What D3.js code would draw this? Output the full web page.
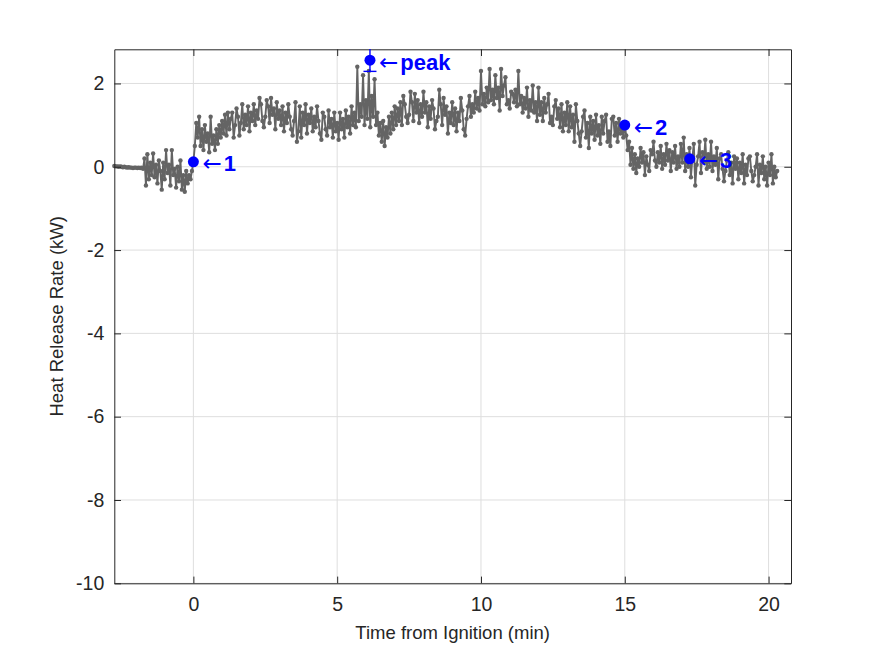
<!DOCTYPE html>
<html>
<head>
<meta charset="utf-8">
<script src="https://cdn.jsdelivr.net/npm/d3@7"></script>
<style>
  body { margin: 0; background: #fff; }
  svg { display: block; font-family: "Liberation Sans", Arial, Helvetica, sans-serif; }
</style>
</head>
<body>
<div id="chart"></div>
<script>
// sampling of the heat release record (min)
var t0 = -2.75;
var dt = 0.05;

// heat release rate, kW, one value per sample
var hrr = [
    0.02,0.01,0.01,0.00,0.01,0.00,-0.01,0.00,-0.01,-0.02,-0.01,-0.02,-0.02,-0.03,-0.02,-0.02,-0.03,-0.02,-0.03,-0.02,
    -0.05,0.2,-0.45,0.3,-0.3,0.1,-0.2,0.32,-0.25,0.05,
    -0.4,0.15,-0.1,-0.55,0.1,-0.3,0.4,-0.15,0.05,-0.45,
    0.4,-0.2,-0.05,-0.5,0.0,-0.35,0.15,-0.55,-0.2,-0.6,
    -0.1,-0.4,-0.2,-0.3,-0.1,0.12,0.5,1.05,0.7,1.2,
    0.5,0.9,0.4,1.0,0.6,0.8,0.35,1.2,0.55,0.75,
    0.4,0.9,0.55,1.0,0.7,1.1,0.8,1.25,0.75,1.3,
    0.9,1.15,1.3,0.7,1.0,1.4,1.2,0.75,1.05,1.5,
    0.9,1.25,1.0,1.45,0.85,1.3,1.1,1.5,1.0,1.35,
    1.15,1.65,1.5,1.1,0.95,1.2,1.6,1.45,1.05,1.65,
    1.25,1.4,0.9,1.55,1.15,1.35,1.0,1.45,0.85,1.3,
    1.05,1.5,1.2,0.9,0.75,1.1,1.55,0.6,0.85,1.45,
    0.7,1.3,1.0,1.5,0.8,1.25,1.05,1.4,0.85,1.2,
    0.95,1.45,1.1,0.8,0.65,1.3,1.2,0.9,0.75,1.35,
    0.95,1.15,0.7,1.3,0.85,1.05,0.65,1.3,0.9,1.15,
    0.7,1.35,0.95,1.2,0.8,1.45,1.0,1.3,0.95,2.4,
    1.1,1.5,1.2,2.2,1.0,1.6,1.15,2.3,0.95,1.7,
    1.2,2.1,1.0,1.3,0.75,1.05,0.6,1.1,0.5,0.95,
    0.7,1.2,0.8,1.3,0.9,1.45,1.0,1.4,1.1,1.55,
    1.0,1.7,1.5,1.2,1.05,1.25,1.8,1.55,1.1,1.75,
    1.3,1.6,1.05,1.5,1.2,1.8,1.3,1.55,0.95,1.45,
    1.15,1.6,1.4,0.9,1.1,1.2,1.85,1.5,1.0,1.65,
    1.25,1.45,0.8,1.3,1.05,1.55,1.0,1.4,0.85,1.3,
    1.1,1.65,1.35,0.9,0.75,1.15,1.45,1.7,1.2,1.5,
    1.3,1.8,1.4,1.65,1.35,2.3,1.5,1.75,1.45,1.9,
    1.55,2.35,1.6,1.85,1.5,2.2,1.65,1.9,1.35,2.35,
    1.7,1.95,2.15,1.5,1.6,1.4,1.8,1.75,1.55,1.85,
    1.45,2.3,1.5,1.7,1.3,1.65,1.4,1.9,1.2,1.6,
    1.35,1.95,1.3,1.55,1.1,1.9,1.25,1.55,1.1,1.65,
    1.3,1.5,1.75,1.05,1.2,1.0,1.45,1.6,1.15,1.4,
    0.95,1.5,0.85,1.3,1.0,1.55,0.85,1.45,0.95,1.25,
    0.6,1.5,1.1,0.8,0.5,0.85,1.2,1.35,0.7,1.05,
    0.45,1.2,0.8,1.1,0.65,1.25,0.75,1.0,0.55,1.2,
    0.8,1.1,1.25,0.6,0.85,0.5,1.15,1.2,0.75,1.05,
    0.6,1.15,0.8,1.0,0.7,1.0,0.75,0.4,0.6,0.05,
    0.45,-0.05,0.3,-0.15,0.2,0.0,0.45,0.1,0.35,-0.2,
    0.25,0.05,-0.1,0.4,0.3,0.6,0.15,0.0,0.35,0.1,
    0.5,-0.05,0.3,0.05,0.55,0.15,0.4,-0.1,0.35,0.1,
    0.5,-0.05,0.25,0.0,0.55,0.1,0.7,-0.1,0.3,0.0,
    0.45,-0.25,0.2,0.55,-0.45,0.05,0.25,0.6,-0.15,0.35,
    0.1,0.65,-0.05,0.3,0.0,0.6,-0.1,0.25,0.05,0.45,
    -0.3,0.2,0.3,-0.05,-0.35,-0.1,0.15,0.35,-0.2,0.1,
    -0.4,0.25,-0.05,0.2,-0.3,0.1,-0.15,0.3,-0.4,0.05,
    -0.2,0.2,0.25,-0.1,-0.35,-0.2,0.0,0.3,-0.45,0.05,
    -0.15,0.25,-0.3,0.0,-0.45,0.1,-0.2,0.3,-0.4,0.0,
    -0.25,-0.1
];

// annotated points
var markT = [0, 6.14, 15.0, 17.26];
var markY = [0.12, 2.56, 1.0, 0.19];
var markLabel = ['1', 'peak', '2', '3'];
var peakErr = 0.27;

var xTicks = [0, 5, 10, 15, 20];
var yTicks = [-10, -8, -6, -4, -2, 0, 2];

var width = 875, height = 656;
var padL = 114.3, padR = 791, padT = 49.3, padB = 583.3;

var x = d3.scaleLinear().domain([-2.75, 20.78]).range([padL, padR]);
var y = d3.scaleLinear().domain([-10, 2.82]).range([padB, padT]);

var svg = d3.select('#chart').append('svg')
    .attr('width', width)
    .attr('height', height);

var axisColor = '#262626';
var gray = '#646464';
var blue = '#0000ff';

// grid
var grid = svg.append('g');
grid.selectAll('.gx').data(xTicks).enter().append('line')
    .attr('x1', function (d) { return x(d); })
    .attr('x2', function (d) { return x(d); })
    .attr('y1', padT).attr('y2', padB)
    .attr('stroke', '#dedede').attr('stroke-width', 1);
grid.selectAll('.gy').data(yTicks).enter().append('line')
    .attr('y1', function (d) { return y(d); })
    .attr('y2', function (d) { return y(d); })
    .attr('x1', padL).attr('x2', padR)
    .attr('stroke', '#dedede').attr('stroke-width', 1);

// data line with dots
var pts = hrr.map(function (v, i) { return [t0 + i * dt, v]; });
var line = d3.line()
    .x(function (d) { return x(d[0]); })
    .y(function (d) { return y(d[1]); });

svg.append('path')
    .datum(pts)
    .attr('d', line)
    .attr('fill', 'none')
    .attr('stroke', gray)
    .attr('stroke-width', 1.9)
    .attr('stroke-linejoin', 'round');

svg.append('g').selectAll('circle').data(pts).enter().append('circle')
    .attr('cx', function (d) { return x(d[0]); })
    .attr('cy', function (d) { return y(d[1]); })
    .attr('r', 2.2)
    .attr('fill', gray);

// axes, MATLAB style box with inward ticks
var tickLen = 6.7;
var plain = function (d) { return String(d); };
var xAxisB = d3.axisBottom(x).tickValues(xTicks).tickSizeInner(-tickLen).tickSizeOuter(0).tickPadding(14).tickFormat(plain);
var xAxisT = d3.axisTop(x).tickValues(xTicks).tickSizeInner(-tickLen).tickSizeOuter(0).tickFormat('');
var yAxisL = d3.axisLeft(y).tickValues(yTicks).tickSizeInner(-tickLen).tickSizeOuter(0).tickPadding(10).tickFormat(plain);
var yAxisR = d3.axisRight(y).tickValues(yTicks).tickSizeInner(-tickLen).tickSizeOuter(0).tickFormat('');

function styleAxis(g) {
    g.select('.domain').attr('stroke', axisColor).attr('stroke-width', 1);
    g.selectAll('.tick line').attr('stroke', axisColor).attr('stroke-width', 1);
    g.selectAll('.tick text').attr('fill', axisColor)
        .style('font-size', '19.5px')
        .style('font-family', '"Liberation Sans", Arial, sans-serif');
}

svg.append('g').attr('transform', 'translate(0,' + padB + ')').call(xAxisB).call(styleAxis);
svg.append('g').attr('transform', 'translate(0,' + padT + ')').call(xAxisT).call(styleAxis);
svg.append('g').attr('transform', 'translate(' + padL + ',0)').call(yAxisL).call(styleAxis);
svg.append('g').attr('transform', 'translate(' + padR + ',0)').call(yAxisR).call(styleAxis);

// axis labels
svg.append('text')
    .attr('x', (padL + padR) / 2)
    .attr('y', 639)
    .attr('text-anchor', 'middle')
    .attr('fill', axisColor)
    .style('font-size', '18.5px')
    .text('Time from Ignition (min)');

svg.append('text')
    .attr('transform', 'translate(63,' + ((padT + padB) / 2) + ') rotate(-90)')
    .attr('text-anchor', 'middle')
    .attr('fill', axisColor)
    .style('font-size', '18.5px')
    .text('Heat Release Rate (kW)');

// peak error bar (upper cap sits on the box edge)
var pk = 1;
var capW = 6.5;
var eb = svg.append('g').attr('stroke', blue).attr('stroke-width', 1.4);
eb.append('line')
    .attr('x1', x(markT[pk])).attr('x2', x(markT[pk]))
    .attr('y1', y(markY[pk] - peakErr)).attr('y2', y(markY[pk] + peakErr));
eb.append('line')
    .attr('x1', x(markT[pk]) - capW).attr('x2', x(markT[pk]) + capW)
    .attr('y1', y(markY[pk] - peakErr)).attr('y2', y(markY[pk] - peakErr));

// annotated markers and labels
var marks = markT.map(function (t, i) { return { t: t, v: markY[i], label: markLabel[i] }; });

svg.append('g').selectAll('circle').data(marks).enter().append('circle')
    .attr('cx', function (d) { return x(d.t); })
    .attr('cy', function (d) { return y(d.v); })
    .attr('r', 5.5)
    .attr('fill', blue);

var labels = svg.append('g').selectAll('text').data(marks).enter().append('text')
    .attr('x', function (d) { return x(d.t) + 9; })
    .attr('y', function (d) { return y(d.v) + 4; })
    .attr('dy', '0.35em')
    .attr('fill', blue);

labels.append('tspan')
    .style('font-family', '"DejaVu Sans", sans-serif')
    .style('font-size', '23px')
    .style('font-weight', 'normal')
    .text('\u2190');

labels.append('tspan')
    .attr('dx', 2)
    .style('font-size', '22px')
    .style('font-weight', 'bold')
    .text(function (d) { return d.label; });
</script>
</body>
</html>
